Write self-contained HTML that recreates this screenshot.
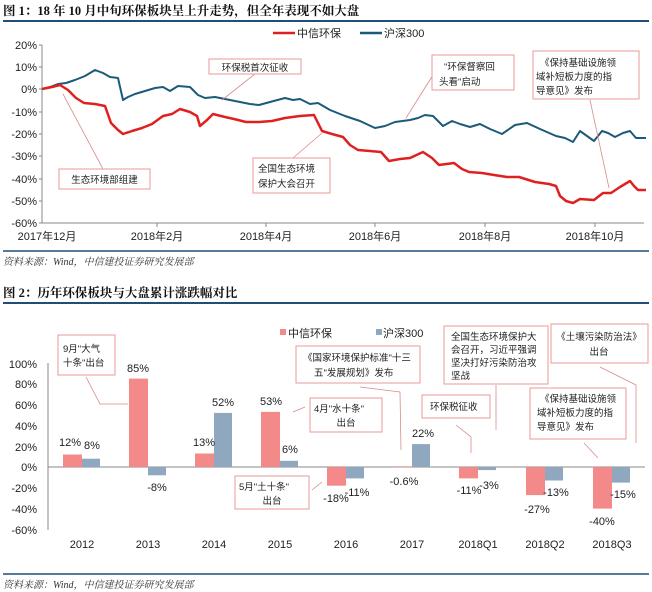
<!DOCTYPE html>
<html><head><meta charset="utf-8"><style>
body{margin:0;background:#fff;}
svg{display:block;font-family:"Liberation Sans","Noto Sans CJK SC",sans-serif;}
.ax{font-size:11px;fill:#222;}
.an{font-size:9.5px;fill:#222;}
.box{fill:#fff;stroke:#e89a9a;stroke-width:1;}
.ld{stroke:#d98a8a;stroke-width:0.8;fill:none;}
</style></head><body>
<svg width="652" height="592" viewBox="0 0 652 592">
<!-- Chart 1 -->
<text x="3" y="15" font-size="12.5" font-weight="bold" font-family="Liberation Serif,Noto Serif CJK SC,serif" fill="#111">图 1：18 年 10 月中旬环保板块呈上升走势，但全年表现不如大盘</text>
<line x1="3" y1="21" x2="649" y2="21" stroke="#1f4e79" stroke-width="2"/>
<line x1="273" y1="33" x2="295" y2="33" stroke="#e02020" stroke-width="2.5"/>
<text x="297" y="37" class="ax">中信环保</text>
<line x1="360" y1="33" x2="382" y2="33" stroke="#1c5a7a" stroke-width="2.5"/>
<text x="384" y="37" class="ax">沪深300</text>
<g class="ax" text-anchor="end">
<text x="37" y="49">20%</text><text x="37" y="71">10%</text><text x="37" y="93">0%</text>
<text x="37" y="116">-10%</text><text x="37" y="138">-20%</text><text x="37" y="160">-30%</text>
<text x="37" y="183">-40%</text><text x="37" y="205">-50%</text><text x="37" y="227">-60%</text>
</g>
<line x1="42" y1="45" x2="42" y2="223" stroke="#888"/>
<line x1="42" y1="223" x2="644" y2="223" stroke="#888"/>
<g stroke="#888"><line x1="39" y1="45" x2="42" y2="45"/><line x1="39" y1="67" x2="42" y2="67"/><line x1="39" y1="89" x2="42" y2="89"/><line x1="39" y1="112" x2="42" y2="112"/><line x1="39" y1="134" x2="42" y2="134"/><line x1="39" y1="156" x2="42" y2="156"/><line x1="39" y1="179" x2="42" y2="179"/><line x1="39" y1="201" x2="42" y2="201"/><line x1="39" y1="223" x2="42" y2="223"/>
<line x1="157" y1="223" x2="157" y2="227"/><line x1="266" y1="223" x2="266" y2="227"/><line x1="375" y1="223" x2="375" y2="227"/><line x1="485" y1="223" x2="485" y2="227"/><line x1="595" y1="223" x2="595" y2="227"/></g>
<g class="ax" text-anchor="middle">
<text x="47" y="240">2017年12月</text><text x="157" y="240">2018年2月</text><text x="266" y="240">2018年4月</text>
<text x="375" y="240">2018年6月</text><text x="485" y="240">2018年8月</text><text x="595" y="240">2018年10月</text>
</g>
<polyline fill="none" stroke="#1c5a7a" stroke-width="2" stroke-linejoin="round" points="42,89 50,87 58,84 66,83 75,80 85,76 95,70 103,73 110,77 118,78 123,100 128,97 135,94 145,91 155,88 163,87 170,91 178,86 190,87 198,95 205,98 215,97 225,99 240,102 250,104 259,105 270,102 285,98 293,100 300,99 310,104 318,103 330,110 345,116 360,121 375,128 385,126 395,122 410,120 418,118 425,115 433,116 443,126 452,121 460,124 470,127 480,124 490,129 502,134 515,125 527,123 540,129 556,136 565,138 573,142 580,131 587,136 594,141 602,131 608,133 615,137 623,133 630,131 636,138 646,138"/>
<polyline fill="none" stroke="#e02020" stroke-width="2.5" stroke-linejoin="round" points="42,89 52,87 60,85 68,90 76,98 84,103 95,104 105,106 111,123 118,130 123,134 132,131 142,128 152,124 163,116 172,114 180,109 190,112 197,116 200,126 207,120 213,114 225,117 234,119 246,122 259,122 272,121 285,118 300,116 314,115 322,131 332,134 343,137 350,145 358,150 370,151 381,152 389,161 400,159 410,158 423,152 432,158 439,165 454,163 462,169 469,172 482,173 494,175 507,177 519,177 535,182 549,184 556,186 560,196 566,201 573,203 580,199 594,200 603,193 611,193 620,187 630,181 634,186 638,190 646,190"/>
<g>
<line class="ld" x1="63" y1="94" x2="103" y2="169"/>
<rect class="box" x="59" y="169" width="91" height="20"/><text class="an" x="104.5" y="183" text-anchor="middle">生态环境部组建</text>
<line class="ld" x1="222" y1="100" x2="255" y2="74"/>
<rect class="box" x="209" y="59" width="92" height="15"/><text class="an" x="255" y="71" text-anchor="middle">环保税首次征收</text>
<line class="ld" x1="322" y1="133" x2="293" y2="158"/>
<rect class="box" x="253" y="158" width="77" height="35"/><text class="an" x="258" y="172">全国生态环境</text><text class="an" x="258" y="187">保护大会召开</text>
<line class="ld" x1="406" y1="118" x2="433" y2="75"/>
<rect class="box" x="432" y="55" width="82" height="35"/><text class="an" x="444" y="70">"环保督察回</text><text class="an" x="439" y="85">头看"启动</text>
<line class="ld" x1="590" y1="100" x2="609" y2="188"/>
<rect class="box" x="533" y="51" width="106" height="48"/><text class="an" x="540" y="66">《保持基础设施领</text><text class="an" x="536" y="80">域补短板力度的指</text><text class="an" x="536" y="94">导意见》发布</text>
</g>
<line x1="3" y1="251" x2="649" y2="251" stroke="#1f4e79" stroke-width="1.5"/>
<text x="3" y="265" font-size="10" font-style="italic" fill="#333" font-family="Liberation Serif,Noto Serif CJK SC,serif">资料来源：Wind，中信建投证券研究发展部</text>

<!-- Chart 2 -->
<text x="3" y="297" font-size="12.5" font-weight="bold" font-family="Liberation Serif,Noto Serif CJK SC,serif" fill="#111">图 2：历年环保板块与大盘累计涨跌幅对比</text>
<line x1="3" y1="303" x2="649" y2="303" stroke="#1f4e79" stroke-width="2"/>
<rect x="280" y="329" width="6" height="6" fill="#f4898a"/><text x="288" y="337" class="ax">中信环保</text>
<rect x="376" y="329" width="6" height="6" fill="#8fa8c0"/><text x="383" y="337" class="ax">沪深300</text>
<g class="ax" text-anchor="end">
<text x="37" y="368">100%</text><text x="37" y="388">80%</text><text x="37" y="409">60%</text><text x="37" y="430">40%</text><text x="37" y="451">20%</text><text x="37" y="471">0%</text><text x="37" y="492">-20%</text><text x="37" y="513">-40%</text><text x="37" y="534">-60%</text>
</g>
<line x1="48" y1="363" x2="48" y2="530" stroke="#888"/>
<line x1="48" y1="467" x2="645" y2="467" stroke="#888"/>
<g fill="#f4898a">
<rect x="63" y="454.5" width="19" height="12.5"/>
<rect x="129" y="378.6" width="19" height="88.4"/>
<rect x="195" y="453.5" width="19" height="13.5"/>
<rect x="261" y="411.9" width="19" height="55.1"/>
<rect x="327" y="467" width="19" height="18.7"/>
<rect x="393" y="467" width="19" height="0.6"/>
<rect x="459" y="467" width="19" height="11.4"/>
<rect x="526" y="467" width="19" height="28.1"/>
<rect x="593" y="467" width="19" height="41.6"/>
</g>
<g fill="#8fa8c0">
<rect x="82" y="458.7" width="18" height="8.3"/>
<rect x="148" y="467" width="18" height="8.3"/>
<rect x="214" y="412.9" width="18" height="54.1"/>
<rect x="280" y="460.8" width="18" height="6.2"/>
<rect x="346" y="467" width="18" height="11.4"/>
<rect x="412" y="444.1" width="18" height="22.9"/>
<rect x="478" y="467" width="18" height="3.1"/>
<rect x="545" y="467" width="18" height="13.5"/>
<rect x="612" y="467" width="18" height="15.6"/>
</g>
<g class="ax" text-anchor="middle" font-size="11.5">
<text x="70" y="446">12%</text><text x="92" y="449">8%</text>
<text x="138" y="372">85%</text><text x="157" y="491">-8%</text>
<text x="204" y="446">13%</text><text x="223" y="406">52%</text>
<text x="271" y="405">53%</text><text x="290" y="453">6%</text>
<text x="336" y="502">-18%</text><text x="357" y="496">-11%</text>
<text x="404" y="485">-0.6%</text><text x="423" y="437">22%</text>
<text x="469" y="494">-11%</text><text x="489" y="489">-3%</text>
<text x="537" y="513">-27%</text><text x="556" y="496">-13%</text>
<text x="602" y="525">-40%</text><text x="623" y="498">-15%</text>
</g>
<g class="ax" text-anchor="middle" font-size="11.5">
<text x="82" y="548">2012</text><text x="148" y="548">2013</text><text x="214" y="548">2014</text><text x="280" y="548">2015</text><text x="346" y="548">2016</text><text x="412" y="548">2017</text><text x="478" y="548">2018Q1</text><text x="545" y="548">2018Q2</text><text x="612" y="548">2018Q3</text>
</g>
<g>
<polyline class="ld" points="86,377 100,404 128,404"/>
<rect class="box" x="58" y="335" width="57" height="40"/><text class="an" x="63" y="352">9月"大气</text><text class="an" x="63" y="366">十条"出台</text>
<polyline class="ld" points="360,387 400,392 401,450"/>
<rect class="box" x="296" y="346" width="124" height="37"/><text class="an" x="303" y="361">《国家环境保护标准"十三</text><text class="an" x="314" y="376">五"发展规划》发布</text>
<line class="ld" x1="293" y1="412" x2="305" y2="407"/>
<rect class="box" x="310" y="398" width="72" height="34"/><text class="an" x="314" y="412">4月"水十条"</text><text class="an" x="346" y="426" text-anchor="middle">出台</text>
<line class="ld" x1="312" y1="490" x2="322" y2="482"/>
<rect class="box" x="235" y="476" width="74" height="33"/><text class="an" x="239" y="490">5月"土十条"</text><text class="an" x="272" y="504" text-anchor="middle">出台</text>
<polyline class="ld" points="456,425 471,437 471,453"/>
<rect class="box" x="422" y="395" width="68" height="23"/><text class="an" x="430" y="410">环保税征收</text>
<line class="ld" x1="496" y1="385" x2="496" y2="430"/>
<rect class="box" x="444" y="326" width="104" height="58"/><text class="an" x="451" y="340">全国生态环境保护大</text><text class="an" x="451" y="353">会召开，习近平强调</text><text class="an" x="451" y="366">坚决打好污染防治攻</text><text class="an" x="451" y="379">坚战</text>
<polyline class="ld" points="600,367 636,385 636,443"/>
<rect class="box" x="551" y="324" width="97" height="39"/><text class="an" x="599" y="340" text-anchor="middle">《土壤污染防治法》</text><text class="an" x="599" y="355" text-anchor="middle">出台</text>
<line class="ld" x1="584" y1="443" x2="598" y2="458"/>
<rect class="box" x="530" y="388" width="96" height="51"/><text class="an" x="540" y="402">《保持基础设施领</text><text class="an" x="537" y="416">域补短板力度的指</text><text class="an" x="537" y="430">导意见》发布</text>
</g>
<line x1="3" y1="574" x2="649" y2="574" stroke="#1f4e79" stroke-width="1.5"/>
<text x="3" y="588" font-size="10" font-style="italic" fill="#333" font-family="Liberation Serif,Noto Serif CJK SC,serif">资料来源：Wind，中信建投证券研究发展部</text>
</svg>
</body></html>
